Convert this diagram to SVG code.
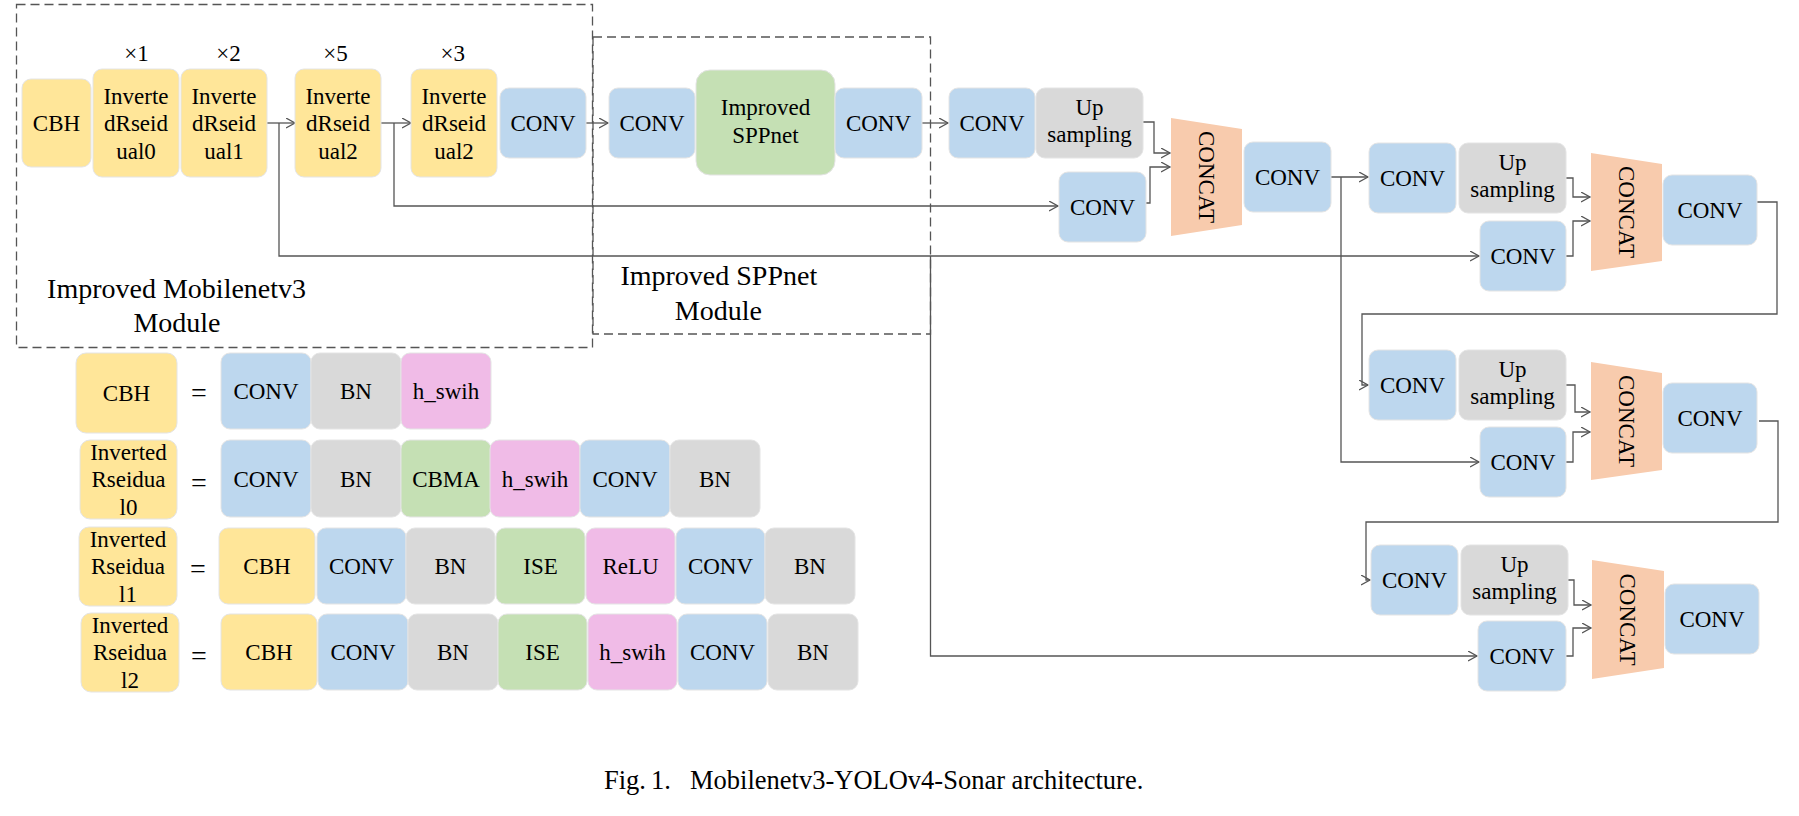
<svg xmlns="http://www.w3.org/2000/svg" width="1799" height="816" viewBox="0 0 1799 816">
<style>
.y{fill:#FFE699}.b{fill:#BDD7EE}.g{fill:#D9D9D9}.gr{fill:#C5E0B4}.p{fill:#F0BBE7}.o{fill:#F8CBAD}
.n rect{stroke:#E4E4E4;stroke-width:1}
text{font-family:"Liberation Serif","Times New Roman",serif;font-size:23px;fill:#000;text-anchor:middle}
.big{font-size:28px}
.cap{font-size:26.5px;text-anchor:start}
.eq{font-size:28px}
.dash{fill:none;stroke:#555;stroke-width:1.3;stroke-dasharray:9 5}
.c path{fill:none;stroke:#555;stroke-width:1.3}
</style>
<defs>
<marker id="ah" markerUnits="userSpaceOnUse" markerWidth="12" markerHeight="12" refX="9" refY="5" orient="auto">
<path d="M0,0 L9,5 L0,10" fill="none" stroke="#555" stroke-width="1.3"/>
</marker>
</defs>

<g id="modules">
<rect class="dash" x="16.5" y="4.5" width="576" height="343"/>
<rect class="dash" x="593" y="37" width="337.5" height="297"/>
<text class="big" x="176.6" y="298">Improved Mobilenetv3</text>
<text class="big" x="177" y="332">Module</text>
<text class="big" x="718.8" y="285">Improved SPPnet</text>
<text class="big" x="718.4" y="320">Module</text>
</g>

<g id="connectors" class="c">
<path d="M267,123 H295" marker-end="url(#ah)"/>
<path d="M279,123 V256 H1479" marker-end="url(#ah)"/>
<path d="M381,123 H411" marker-end="url(#ah)"/>
<path d="M394,123 V206 H1058" marker-end="url(#ah)"/>
<path d="M586,123 H608" marker-end="url(#ah)"/>
<path d="M922,123 H948" marker-end="url(#ah)"/>
<path d="M930.5,256 V656 H1477" marker-end="url(#ah)"/>
<path d="M1143,122 H1154 V153 H1170" marker-end="url(#ah)"/>
<path d="M1146,203 H1150 V167 H1170" marker-end="url(#ah)"/>
<path d="M1331,177 H1368" marker-end="url(#ah)"/>
<path d="M1341,177 V462 H1479" marker-end="url(#ah)"/>
<path d="M1566,178 H1573 V197 H1590" marker-end="url(#ah)"/>
<path d="M1566,256 H1573 V221 H1590" marker-end="url(#ah)"/>
<path d="M1757,202 H1777 V314 H1362 V385 H1368" marker-end="url(#ah)"/>
<path d="M1566,385 H1575 V412 H1590" marker-end="url(#ah)"/>
<path d="M1566,462 H1573 V432 H1590" marker-end="url(#ah)"/>
<path d="M1759,421 H1778 V522 H1366 V580 H1370" marker-end="url(#ah)"/>
<path d="M1568,580 H1574 V605 H1591" marker-end="url(#ah)"/>
<path d="M1566,656 H1573 V628 H1591" marker-end="url(#ah)"/>
</g>

<g id="mult">
<text x="136.6" y="61">×1</text>
<text x="228.5" y="61">×2</text>
<text x="335.6" y="61">×5</text>
<text x="452.7" y="61">×3</text>
</g>

<g class="n">
<g id="cbh"><rect class="y" x="22" y="79" width="69" height="88" rx="9"/><text x="56.5" y="131">CBH</text></g>
<g id="ir0"><rect class="y" x="93" y="69" width="86" height="108" rx="9"/><text x="136" y="103.5">Inverte</text><text x="136" y="131">dRseid</text><text x="136" y="158.5">ual0</text></g>
<g id="ir1"><rect class="y" x="181" y="69" width="86" height="108" rx="9"/><text x="224" y="103.5">Inverte</text><text x="224" y="131">dRseid</text><text x="224" y="158.5">ual1</text></g>
<g id="ir2a"><rect class="y" x="295" y="69" width="86" height="108" rx="9"/><text x="338" y="103.5">Inverte</text><text x="338" y="131">dRseid</text><text x="338" y="158.5">ual2</text></g>
<g id="ir2b"><rect class="y" x="411" y="69" width="86" height="108" rx="9"/><text x="454" y="103.5">Inverte</text><text x="454" y="131">dRseid</text><text x="454" y="158.5">ual2</text></g>
<g id="conv0"><rect class="b" x="500" y="88" width="86" height="70" rx="9"/><text x="543" y="131">CONV</text></g>
<g id="sppconv1"><rect class="b" x="609" y="88" width="86" height="70" rx="9"/><text x="652" y="131">CONV</text></g>
<g id="spp"><rect class="gr" x="696" y="70" width="139" height="105" rx="14"/><text x="765.5" y="115">Improved</text><text x="765.5" y="143">SPPnet</text></g>
<g id="sppconv2"><rect class="b" x="835" y="88" width="87" height="70" rx="9"/><text x="878.5" y="131">CONV</text></g>
<g id="conv3"><rect class="b" x="949" y="88" width="86" height="70" rx="9"/><text x="992" y="131">CONV</text></g>
<g id="upA"><rect class="g" x="1036" y="88" width="107" height="70" rx="9"/><text x="1089.5" y="114.5">Up</text><text x="1089.5" y="142">sampling</text></g>
<g id="lowA"><rect class="b" x="1059" y="172" width="87" height="70" rx="9"/><text x="1102.5" y="215">CONV</text></g>
<g id="concat1"><polygon class="o" points="1171,118 1242,129 1242,225 1171,236"/><text transform="translate(1206.5,177) rotate(90)" y="8">CONCAT</text></g>
<g id="convA2"><rect class="b" x="1244" y="142" width="87" height="70" rx="9"/><text x="1287.5" y="185">CONV</text></g>

<g id="convB"><rect class="b" x="1369" y="143" width="87" height="70" rx="9"/><text x="1412.5" y="186">CONV</text></g>
<g id="upB"><rect class="g" x="1459" y="143" width="107" height="70" rx="9"/><text x="1512.5" y="169.5">Up</text><text x="1512.5" y="197">sampling</text></g>
<g id="lowB"><rect class="b" x="1480" y="221" width="86" height="70" rx="9"/><text x="1523" y="264">CONV</text></g>
<g id="concat2"><polygon class="o" points="1591,153 1662,164 1662,261 1591,271"/><text transform="translate(1626.5,212) rotate(90)" y="8">CONCAT</text></g>
<g id="convB2"><rect class="b" x="1663" y="175" width="94" height="70" rx="9"/><text x="1710" y="218">CONV</text></g>

<g id="convC"><rect class="b" x="1369" y="350" width="87" height="70" rx="9"/><text x="1412.5" y="393">CONV</text></g>
<g id="upC"><rect class="g" x="1459" y="350" width="107" height="70" rx="9"/><text x="1512.5" y="376.5">Up</text><text x="1512.5" y="404">sampling</text></g>
<g id="lowC"><rect class="b" x="1480" y="427" width="86" height="70" rx="9"/><text x="1523" y="470">CONV</text></g>
<g id="concat3"><polygon class="o" points="1591,362 1662,373 1662,470 1591,480"/><text transform="translate(1626.5,421) rotate(90)" y="8">CONCAT</text></g>
<g id="convC2"><rect class="b" x="1663" y="383" width="94" height="70" rx="9"/><text x="1710" y="426">CONV</text></g>

<g id="convD"><rect class="b" x="1371" y="545" width="87" height="70" rx="9"/><text x="1414.5" y="588">CONV</text></g>
<g id="upD"><rect class="g" x="1461" y="545" width="107" height="70" rx="9"/><text x="1514.5" y="571.5">Up</text><text x="1514.5" y="599">sampling</text></g>
<g id="lowD"><rect class="b" x="1478" y="621" width="88" height="70" rx="9"/><text x="1522" y="664">CONV</text></g>
<g id="concat4"><polygon class="o" points="1592,560 1664,571 1664,668 1592,679"/><text transform="translate(1628,619.5) rotate(90)" y="8">CONCAT</text></g>
<g id="convD2"><rect class="b" x="1665" y="584" width="94" height="70" rx="9"/><text x="1712" y="627">CONV</text></g>

<g id="legend-cbh">
<rect class="y" x="76" y="353" width="101" height="80" rx="10"/><text x="126.5" y="401">CBH</text>
<text class="eq" x="199" y="402">=</text>
<rect class="b" x="221" y="353" width="90" height="76" rx="9"/><text x="266" y="399">CONV</text>
<rect class="g" x="311" y="353" width="90" height="76" rx="9"/><text x="356" y="399">BN</text>
<rect class="p" x="401" y="353" width="90" height="76" rx="9"/><text x="446" y="399">h_swih</text>
</g>
<g id="legend-ir0">
<rect class="y" x="80" y="440" width="97" height="79" rx="10"/><text x="128.5" y="459.5">Inverted</text><text x="128.5" y="487">Rseidua</text><text x="128.5" y="514.5">l0</text>
<text class="eq" x="199" y="492">=</text>
<rect class="b" x="221" y="440" width="90" height="77" rx="9"/><text x="266" y="486.5">CONV</text>
<rect class="g" x="311" y="440" width="90" height="77" rx="9"/><text x="356" y="486.5">BN</text>
<rect class="gr" x="401" y="440" width="90" height="77" rx="9"/><text x="446" y="486.5">CBMA</text>
<rect class="p" x="490" y="440" width="90" height="77" rx="9"/><text x="535" y="486.5">h_swih</text>
<rect class="b" x="580" y="440" width="90" height="77" rx="9"/><text x="625" y="486.5">CONV</text>
<rect class="g" x="670" y="440" width="90" height="77" rx="9"/><text x="715" y="486.5">BN</text>
</g>
<g id="legend-ir1">
<rect class="y" x="79" y="527" width="98" height="79" rx="10"/><text x="128" y="546.5">Inverted</text><text x="128" y="574">Rseidua</text><text x="128" y="601.5">l1</text>
<text class="eq" x="198" y="578">=</text>
<rect class="y" x="219" y="528" width="96" height="76" rx="9"/><text x="267" y="574">CBH</text>
<rect class="b" x="317" y="528" width="89" height="76" rx="9"/><text x="361.5" y="574">CONV</text>
<rect class="g" x="406" y="528" width="89" height="76" rx="9"/><text x="450.5" y="574">BN</text>
<rect class="gr" x="496" y="528" width="89" height="76" rx="9"/><text x="540.5" y="574">ISE</text>
<rect class="p" x="586" y="528" width="89" height="76" rx="9"/><text x="630.5" y="574">ReLU</text>
<rect class="b" x="676" y="528" width="89" height="76" rx="9"/><text x="720.5" y="574">CONV</text>
<rect class="g" x="765" y="528" width="90" height="76" rx="9"/><text x="810" y="574">BN</text>
</g>
<g id="legend-ir2">
<rect class="y" x="81" y="613" width="98" height="79" rx="10"/><text x="130" y="632.5">Inverted</text><text x="130" y="660">Rseidua</text><text x="130" y="687.5">l2</text>
<text class="eq" x="199" y="665">=</text>
<rect class="y" x="221" y="614" width="96" height="76" rx="9"/><text x="269" y="660">CBH</text>
<rect class="b" x="318" y="614" width="90" height="76" rx="9"/><text x="363" y="660">CONV</text>
<rect class="g" x="408" y="614" width="90" height="76" rx="9"/><text x="453" y="660">BN</text>
<rect class="gr" x="498" y="614" width="89" height="76" rx="9"/><text x="542.5" y="660">ISE</text>
<rect class="p" x="588" y="614" width="89" height="76" rx="9"/><text x="632.5" y="660">h_swih</text>
<rect class="b" x="678" y="614" width="89" height="76" rx="9"/><text x="722.5" y="660">CONV</text>
<rect class="g" x="768" y="614" width="90" height="76" rx="9"/><text x="813" y="660">BN</text>
</g>
</g>

<text class="cap" x="604" y="789">Fig.<tspan x="651">1.</tspan><tspan x="690">Mobilenetv3-YOLOv4-Sonar architecture.</tspan></text>
</svg>
